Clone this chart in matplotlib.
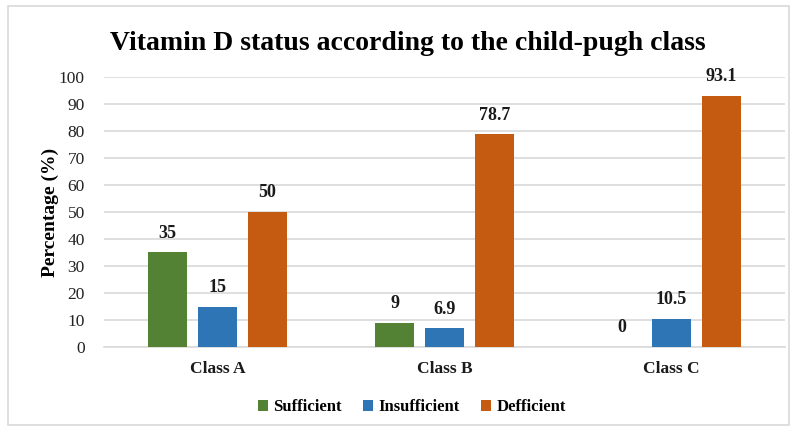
import matplotlib
matplotlib.use("Agg")
import matplotlib.pyplot as plt
import numpy as np
from matplotlib.patches import Rectangle

categories = ["Class A", "Class B", "Class C"]
series_names = ["Sufficient", "Insufficient", "Defficient"]
sufficient = [35, 9, 0]
insufficient = [15, 6.9, 10.5]
defficient = [50, 78.7, 93.1]
label_text = [["35", "9", "0"], ["15", "6.9", "10.5"], ["50", "78.7", "93.1"]]
colors = ["#548235", "#2E75B6", "#C55A11"]
yticks = list(range(0, 101, 10))

plt.rcParams['font.family'] = ['Liberation Serif', 'DejaVu Serif']

fig = plt.figure(figsize=(7.95, 4.30), dpi=100)
ax = fig.add_axes([0.131, 0.193, 0.856, 0.628])

x = np.arange(len(categories))
width = 0.172
step = 0.22
series = [sufficient, insufficient, defficient]
for i, (vals, name, col) in enumerate(zip(series, series_names, colors)):
    pos = x + (i - 1) * step
    bars = ax.bar(pos, vals, width, color=col, label=name, zorder=3)
    for b, v, t in zip(bars, vals, label_text[i]):
        ax.text(b.get_x() + b.get_width() / 2, v + 4, t, ha='center', va='bottom',
                fontsize=13, fontweight='bold', color='#1a1a1a')

ax.set_xlim(-0.5, 2.5)
ax.set_ylim(0, 100)
ax.set_yticks(yticks)
ax.set_yticklabels([str(v) for v in yticks], fontsize=12.5, color='#222222')
ax.set_xticks(x)
ax.set_xticklabels(categories, fontsize=12.5, fontweight='bold', color='#1a1a1a')
ax.tick_params(axis='both', length=0)
ax.tick_params(axis='x', pad=10)
ax.tick_params(axis='y', pad=14)
ax.grid(axis='y', color='#d9d9d9', linewidth=1.2, zorder=0)
for s in ['top', 'right', 'left']:
    ax.spines[s].set_visible(False)
ax.spines['bottom'].set_color('#d9d9d9')
ax.spines['bottom'].set_linewidth(1.2)

ax.set_ylabel("Percentage (%)", fontsize=14, fontweight='bold', labelpad=0)
fig.text(0.513, 0.898, "Vitamin D status according to the child-pugh class",
         ha='center', va='center', fontsize=20, fontweight='bold')

leg = ax.legend(loc='center', ncol=3, frameon=False, prop={'size': 12, 'weight': 'bold'},
                handlelength=0.6, handleheight=0.6, handletextpad=0.3, columnspacing=1.3)
leg.set_bbox_to_anchor((0.518, 0.053), transform=fig.transFigure)

fig.patches.append(Rectangle((0.01, 0.012), 0.983, 0.974, transform=fig.transFigure,
                             fill=False, edgecolor='#d9d9d9', linewidth=1.2))

fig.savefig("out.png", dpi=100)
